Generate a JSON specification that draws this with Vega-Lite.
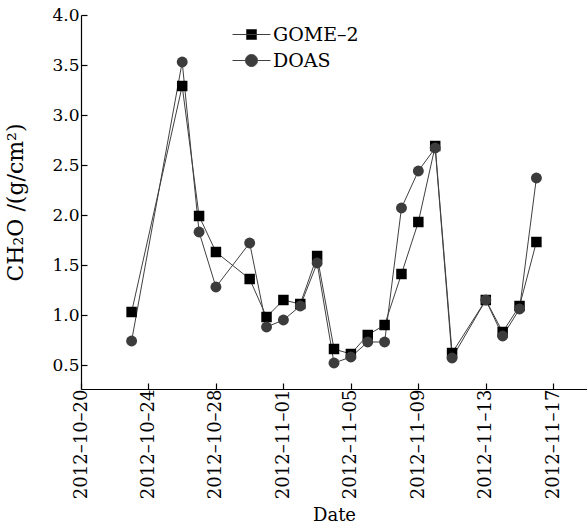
{
  "$schema": "https://vega.github.io/schema/vega-lite/v6.json",
  "width": 506,
  "height": 374,
  "autosize": "none",
  "padding": {"left": 81, "top": 15, "right": 0, "bottom": 140},
  "background": "white",
  "config": {
    "view": {"stroke": null},
    "axis": {
      "domainColor": "black", "domainWidth": 1.2, "tickColor": "black", "tickWidth": 1.2,
      "labelColor": "black", "labelFont": "DejaVu Serif", "titleFont": "DejaVu Serif",
      "titleColor": "black", "titleFontWeight": "normal", "grid": false
    },
    "legend": {"labelFont": "DejaVu Serif", "labelColor": "black"}
  },
  "data": {"values": [
    {"date": "2012-10-23", "series": "GOME–2", "value": 1.03},
    {"date": "2012-10-26", "series": "GOME–2", "value": 3.29},
    {"date": "2012-10-27", "series": "GOME–2", "value": 1.99},
    {"date": "2012-10-28", "series": "GOME–2", "value": 1.63},
    {"date": "2012-10-30", "series": "GOME–2", "value": 1.36},
    {"date": "2012-10-31", "series": "GOME–2", "value": 0.98},
    {"date": "2012-11-01", "series": "GOME–2", "value": 1.15},
    {"date": "2012-11-02", "series": "GOME–2", "value": 1.11},
    {"date": "2012-11-03", "series": "GOME–2", "value": 1.59},
    {"date": "2012-11-04", "series": "GOME–2", "value": 0.66},
    {"date": "2012-11-05", "series": "GOME–2", "value": 0.61},
    {"date": "2012-11-06", "series": "GOME–2", "value": 0.80},
    {"date": "2012-11-07", "series": "GOME–2", "value": 0.90},
    {"date": "2012-11-08", "series": "GOME–2", "value": 1.41},
    {"date": "2012-11-09", "series": "GOME–2", "value": 1.93},
    {"date": "2012-11-10", "series": "GOME–2", "value": 2.69},
    {"date": "2012-11-11", "series": "GOME–2", "value": 0.62},
    {"date": "2012-11-13", "series": "GOME–2", "value": 1.15},
    {"date": "2012-11-14", "series": "GOME–2", "value": 0.83},
    {"date": "2012-11-15", "series": "GOME–2", "value": 1.09},
    {"date": "2012-11-16", "series": "GOME–2", "value": 1.73},
    {"date": "2012-10-23", "series": "DOAS", "value": 0.74},
    {"date": "2012-10-26", "series": "DOAS", "value": 3.53},
    {"date": "2012-10-27", "series": "DOAS", "value": 1.83},
    {"date": "2012-10-28", "series": "DOAS", "value": 1.28},
    {"date": "2012-10-30", "series": "DOAS", "value": 1.72},
    {"date": "2012-10-31", "series": "DOAS", "value": 0.88},
    {"date": "2012-11-01", "series": "DOAS", "value": 0.95},
    {"date": "2012-11-02", "series": "DOAS", "value": 1.09},
    {"date": "2012-11-03", "series": "DOAS", "value": 1.52},
    {"date": "2012-11-04", "series": "DOAS", "value": 0.52},
    {"date": "2012-11-05", "series": "DOAS", "value": 0.58},
    {"date": "2012-11-06", "series": "DOAS", "value": 0.73},
    {"date": "2012-11-07", "series": "DOAS", "value": 0.73},
    {"date": "2012-11-08", "series": "DOAS", "value": 2.07},
    {"date": "2012-11-09", "series": "DOAS", "value": 2.44},
    {"date": "2012-11-10", "series": "DOAS", "value": 2.67},
    {"date": "2012-11-11", "series": "DOAS", "value": 0.57},
    {"date": "2012-11-13", "series": "DOAS", "value": 1.15},
    {"date": "2012-11-14", "series": "DOAS", "value": 0.79},
    {"date": "2012-11-15", "series": "DOAS", "value": 1.06},
    {"date": "2012-11-16", "series": "DOAS", "value": 2.37}
  ]},
  "layer": [
    {
      "mark": {"type": "line", "stroke": "#404040", "strokeWidth": 1},
      "encoding": {
        "x": {
          "field": "date", "type": "temporal",
          "scale": {"type": "utc", "domain": [{"year": 2012, "month": 10, "date": 20, "utc": true}, {"year": 2012, "month": 11, "date": 19, "utc": true}], "nice": false},
          "axis": {
            "orient": "bottom", "title": "Date", "titleFontSize": 18, "titlePadding": 8,
            "values": [
              {"year": 2012, "month": 10, "date": 20, "utc": true},
              {"year": 2012, "month": 10, "date": 22, "utc": true},
              {"year": 2012, "month": 10, "date": 24, "utc": true},
              {"year": 2012, "month": 10, "date": 26, "utc": true},
              {"year": 2012, "month": 10, "date": 28, "utc": true},
              {"year": 2012, "month": 10, "date": 30, "utc": true},
              {"year": 2012, "month": 11, "date": 1, "utc": true},
              {"year": 2012, "month": 11, "date": 3, "utc": true},
              {"year": 2012, "month": 11, "date": 5, "utc": true},
              {"year": 2012, "month": 11, "date": 7, "utc": true},
              {"year": 2012, "month": 11, "date": 9, "utc": true},
              {"year": 2012, "month": 11, "date": 11, "utc": true},
              {"year": 2012, "month": 11, "date": 13, "utc": true},
              {"year": 2012, "month": 11, "date": 15, "utc": true},
              {"year": 2012, "month": 11, "date": 17, "utc": true}
            ],
            "labelExpr": "indexof([20,24,28,1,5,9,13,17], utcdate(datum.value)) >= 0 ? utcFormat(datum.value, '%Y–%m–%d') : ''",
            "tickSize": {"condition": {"test": "indexof([20,24,28,1,5,9,13,17], utcdate(datum.value)) >= 0", "value": -6}, "value": -4},
            "labelAngle": 270, "labelFontSize": 18, "labelPadding": 6,
            "labelFlush": false, "labelOverlap": false
          }
        },
        "y": {
          "field": "value", "type": "quantitative",
          "scale": {"domain": [0.26, 4.0], "nice": false, "zero": false},
          "axis": {
            "orient": "left", "title": "CH₂O /(g/cm²)", "titleFontSize": 22, "titlePadding": 24,
            "values": [0.5, 0.75, 1.0, 1.25, 1.5, 1.75, 2.0, 2.25, 2.5, 2.75, 3.0, 3.25, 3.5, 3.75, 4.0],
            "labelExpr": "round(datum.value*4) % 2 === 0 ? format(datum.value, '.1f') : ''",
            "tickSize": {"condition": {"test": "round(datum.value*4) % 2 === 0", "value": -6}, "value": -3},
            "labelFontSize": 17, "labelPadding": 8, "labelFlush": false, "labelOverlap": false
          }
        },
        "detail": {"field": "series"}
      }
    },
    {
      "transform": [{"filter": "datum.series === 'GOME–2'"}],
      "mark": {"type": "point", "shape": "square", "filled": true, "fill": "black", "opacity": 1, "size": 110},
      "encoding": {
        "x": {"field": "date", "type": "temporal"},
        "y": {"field": "value", "type": "quantitative"}
      }
    },
    {
      "transform": [{"filter": "datum.series === 'DOAS'"}],
      "mark": {"type": "point", "shape": "circle", "filled": true, "fill": "#3c3c3c", "opacity": 1, "size": 120},
      "encoding": {
        "x": {"field": "date", "type": "temporal"},
        "y": {"field": "value", "type": "quantitative"}
      }
    },
    {
      "transform": [{"filter": "false"}],
      "mark": {"type": "point", "filled": true, "opacity": 1},
      "encoding": {
        "x": {"field": "date", "type": "temporal"},
        "y": {"field": "value", "type": "quantitative"},
        "shape": {
          "field": "series", "type": "nominal",
          "scale": {"domain": ["GOME–2", "DOAS"], "range": ["M-3.8,0H3.8M-1,-1H1V1H-1Z", "M-3.8,0H-1.2M1.2,0H3.8M1.2,0A1.2,1.2,0,1,1,-1.2,0A1.2,1.2,0,1,1,1.2,0Z"]},
          "legend": {
            "orient": "none", "legendX": 161, "legendY": 10, "title": null, "padding": 0,
            "symbolSize": 100, "symbolOpacity": 1,
            "labelFontSize": 19, "labelOffset": 12, "rowPadding": 6,
            "encode": {"symbols": {"update": {"stroke": {"value": "#404040"}, "strokeWidth": {"value": 1}}}}
          }
        },
        "fill": {
          "field": "series", "type": "nominal",
          "scale": {"domain": ["GOME–2", "DOAS"], "range": ["#000000", "#3c3c3c"]},
          "legend": {
            "orient": "none", "legendX": 161, "legendY": 10, "title": null, "padding": 0,
            "symbolSize": 100, "symbolOpacity": 1,
            "labelFontSize": 19, "labelOffset": 12, "rowPadding": 6,
            "encode": {"symbols": {"update": {"stroke": {"value": "#404040"}, "strokeWidth": {"value": 1}}}}
          }
        }
      }
    }
  ]
}
